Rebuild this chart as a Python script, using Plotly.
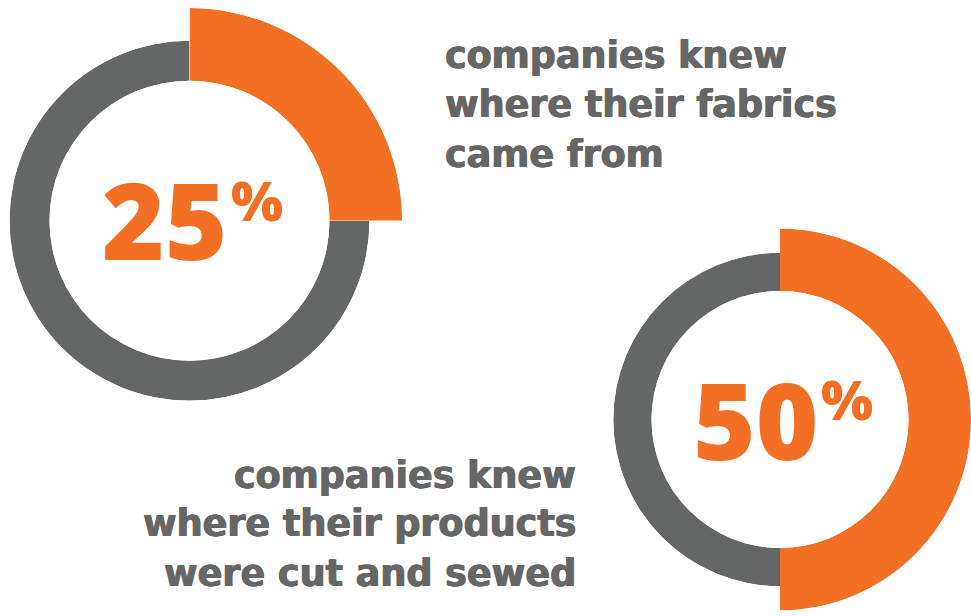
import math
import plotly.graph_objects as go

# Share of companies able to trace each production step
shares = [25, 50]
captions = [
    ["companies knew", "where their fabrics", "came from"],
    ["companies knew", "where their products", "were cut and sewed"],
]

ORANGE = "#F26F23"
GRAY = "#656766"
TEXT_GRAY = "#666666"
W, H = 971, 616

# ring geometry in pixels: centre, hole radius, grey ring radius, highlighted arc radius
rings = [
    dict(cx=189.5, cy=220.7, r_in=140.0, r_gray=180.0, r_hi=212.6),
    dict(cx=780.0, cy=419.5, r_in=128.5, r_gray=166.7, r_hi=191.0),
]
# caption placement: anchor x, alignment, line centre y values
caption_pos = [
    dict(x=443, align="left", ys=[55, 105, 154]),
    dict(x=578, align="right", ys=[475, 523, 573]),
]
# big number placement: right edge of digits, centre y; % sign left edge, centre y
number_pos = [
    dict(x=229, y=218, px=229, py=199),
    dict(x=820, y=418, px=819, py=398),
]


def sector_bbox(a0, a1):
    """Unit-circle bounding box of a sector a0..a1 (deg, ccw from east), centre included."""
    angles = [a0, a1] + [k * 90 for k in range(-4, 9) if a0 < k * 90 < a1]
    xs = [0.0] + [math.cos(math.radians(a)) for a in angles]
    ys = [0.0] + [math.sin(math.radians(a)) for a in angles]
    return min(xs), min(ys), max(xs), max(ys)


def clamp(v):
    return max(0.0, min(1.0, v))


def polar_domain(cx, cy, r, a0, a1):
    bx0, by0, bx1, by1 = sector_bbox(a0, a1)
    x0, x1 = cx + bx0 * r, cx + bx1 * r
    ytop, ybot = cy - by1 * r, cy - by0 * r
    return dict(
        x=[clamp(x0 / W), clamp(x1 / W)],
        y=[clamp(1 - ybot / H), clamp(1 - ytop / H)],
    )


fig = go.Figure()
layout = {}
n = 0
for pct, ring in zip(shares, rings):
    deg = pct * 3.6
    parts = [
        # highlighted share: from 12 o'clock clockwise
        dict(theta=deg / 2, width=deg, color=ORANGE, radius=ring["r_hi"],
             sector=[90 - deg, 90]),
        # remainder
        dict(theta=deg + (360 - deg) / 2, width=360 - deg, color=GRAY,
             radius=ring["r_gray"], sector=[90, 450 - deg]),
    ]
    for p in parts:
        n += 1
        name = "polar" if n == 1 else f"polar{n}"
        fig.add_trace(go.Barpolar(
            r=[1], theta=[p["theta"]], width=[p["width"]],
            marker=dict(color=p["color"], line=dict(width=0)),
            subplot=name, hoverinfo="skip", showlegend=False,
        ))
        layout[name] = dict(
            domain=polar_domain(ring["cx"], ring["cy"], p["radius"], *p["sector"]),
            sector=p["sector"],
            hole=ring["r_in"] / p["radius"],
            bgcolor="rgba(0,0,0,0)",
            radialaxis=dict(visible=False, range=[0, 1]),
            angularaxis=dict(visible=False, rotation=90, direction="clockwise"),
        )

annotations = []
for pct, npos in zip(shares, number_pos):
    annotations.append(dict(
        text=f"{pct}", x=npos["x"] / W, y=1 - npos["y"] / H,
        xref="paper", yref="paper", xanchor="right", yanchor="middle",
        showarrow=False,
        font=dict(family="Open Sans", size=107, color=ORANGE, weight=800),
    ))
    annotations.append(dict(
        text="%", x=npos["px"] / W, y=1 - npos["py"] / H,
        xref="paper", yref="paper", xanchor="left", yanchor="middle",
        showarrow=False,
        font=dict(family="Open Sans", size=55, color=ORANGE, weight=800),
    ))

for lines, cpos in zip(captions, caption_pos):
    for line, y in zip(lines, cpos["ys"]):
        annotations.append(dict(
            text=line, x=cpos["x"] / W, y=1 - y / H,
            xref="paper", yref="paper", xanchor=cpos["align"], yanchor="middle",
            showarrow=False,
            font=dict(family="DejaVu Sans", size=36.5, color=TEXT_GRAY, weight="bold",
                      shadow=f"0.6px 0 0 {TEXT_GRAY}, -0.6px 0 0 {TEXT_GRAY}"),
        ))

fig.update_layout(
    width=W, height=H,
    margin=dict(l=0, r=0, t=0, b=0),
    paper_bgcolor="white", plot_bgcolor="white",
    showlegend=False,
    annotations=annotations,
    **layout,
)

fig.write_html("out.html", config=dict(displayModeBar=False))
